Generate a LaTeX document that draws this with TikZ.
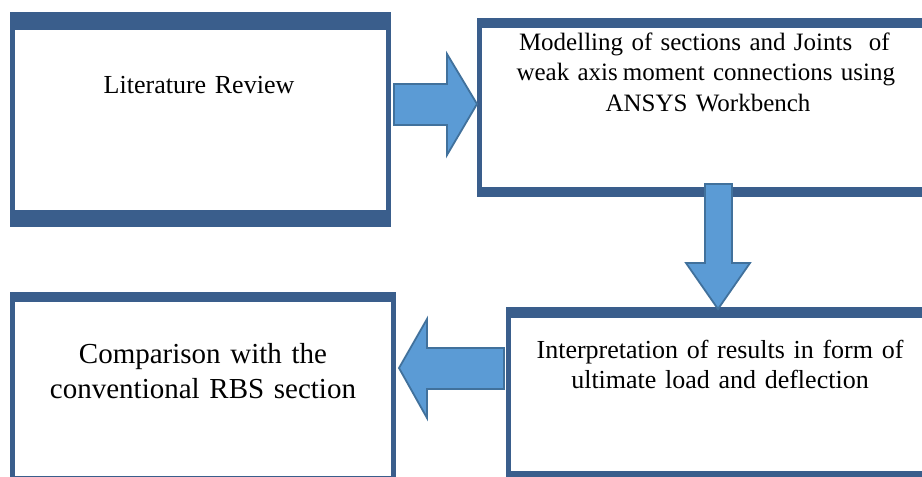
\documentclass[tikz,border=0pt]{standalone}
\usepackage{fontspec}
\setmainfont{Liberation Serif}
\definecolor{boxblue}{HTML}{3A5E8C}
\definecolor{arrfill}{HTML}{5B9BD5}
\definecolor{arrline}{HTML}{41719C}
\tikzset{
  framefill/.style={fill=boxblue},
  innerfill/.style={fill=white},
  blockarrow/.style={fill=arrfill, draw=arrline, line width=1.8pt, line join=miter},
  txt/.style={anchor=base, inner sep=0pt, align=center, text width=#1},
  txt/.default=400pt
}
\begin{document}
\begin{tikzpicture}[x=1pt,y=-1pt]
\useasboundingbox (0,0) rectangle (922,477);
\begin{scope}
\clip (0,0) rectangle (922,477);
% box 1: Literature Review
\fill[framefill] (10,12) rectangle (391,227);
\fill[innerfill] (15,30) rectangle (386,210);
% box 2: Modelling
\fill[framefill] (477,18) rectangle (940,197);
\fill[innerfill] (482,28) rectangle (935,187);
% box 3: Comparison
\fill[framefill] (10,292) rectangle (396,490);
\fill[innerfill] (15,302) rectangle (391,476);
% box 4: Interpretation
\fill[framefill] (506,307) rectangle (940,490);
\fill[innerfill] (511,318) rectangle (935,471);
\end{scope}

% texts
\node[txt=370pt, font=\fontsize{26}{30}\selectfont] (lit) at (199,93) {Literature Review};
\node[txt=390pt, font=\fontsize{25}{30.5}\selectfont] (mod) at (708,50)
  {\makebox[378pt][s]{Modelling of sections and Joints\ \ of}\\
   \makebox[383pt][s]{weak axis\hspace{0.2em}moment connections using}\\
   ANSYS Workbench};
\node[txt=380pt, font=\fontsize{29}{35}\selectfont] (cmp) at (203,363)
  {Comparison with the\\conventional RBS section};
\node[txt=400pt, font=\fontsize{26}{30}\selectfont] (intp) at (720,358)
  {Interpretation of results in form of\\ultimate load and deflection};

% block arrows
\draw[blockarrow] (394,84) -- (447,84) -- (447,54) -- (477,104) -- (447,155) -- (447,125) -- (394,125) -- cycle;
\draw[blockarrow] (705,184) -- (732,184) -- (732,263) -- (750,263) -- (718,309) -- (686,263) -- (705,263) -- cycle;
\draw[blockarrow] (504,348) -- (427,348) -- (427,319) -- (399,368) -- (427,418) -- (427,389) -- (504,389) -- cycle;
\end{tikzpicture}
\end{document}
